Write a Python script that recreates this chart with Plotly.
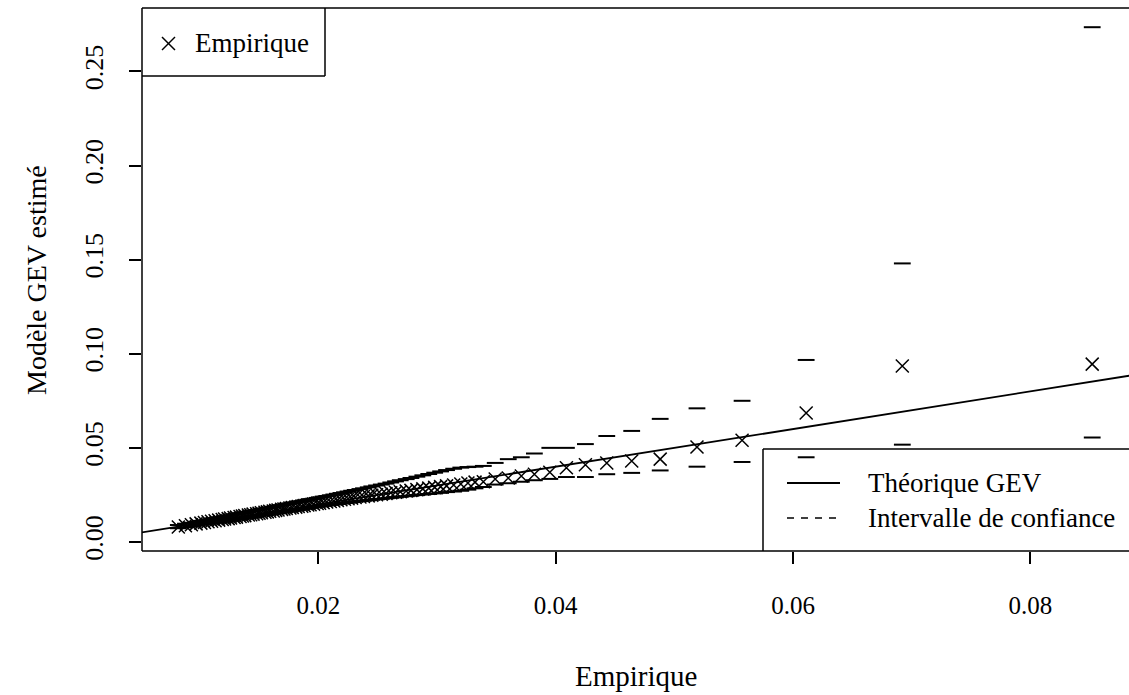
import plotly.graph_objects as go

# ---- data ----
empirique = [
    0.0082, 0.0088, 0.0093, 0.0097, 0.0101, 0.0104, 0.0107, 0.0110, 0.0113, 0.0116,
    0.0119, 0.0121, 0.0124, 0.0126, 0.0129, 0.0131, 0.0134, 0.0136, 0.0138, 0.0141,
    0.0143, 0.0145, 0.0148, 0.0150, 0.0152, 0.0155, 0.0157, 0.0159, 0.0162, 0.0164,
    0.0166, 0.0169, 0.0171, 0.0173, 0.0176, 0.0178, 0.0181, 0.0183, 0.0186, 0.0188,
    0.0191, 0.0193, 0.0196, 0.0199, 0.0201, 0.0204, 0.0207, 0.0210, 0.0213, 0.0216,
    0.0219, 0.0222, 0.0225, 0.0228, 0.0231, 0.0235, 0.0238, 0.0242, 0.0245, 0.0249,
    0.0253, 0.0257, 0.0261, 0.0265, 0.0269, 0.0274, 0.0278, 0.0283, 0.0288, 0.0293,
    0.0298, 0.0303, 0.0308, 0.0314, 0.0320, 0.0326, 0.0332,
    0.0339, 0.0349, 0.0360, 0.0371, 0.0382, 0.0395, 0.0409, 0.0425, 0.0443, 0.0464,
    0.0488, 0.0519, 0.0557, 0.0611, 0.0692, 0.0852,
]
modele = [
    0.0080, 0.0086, 0.0091, 0.0096, 0.0100, 0.0103, 0.0107, 0.0110, 0.0113, 0.0116,
    0.0119, 0.0122, 0.0124, 0.0127, 0.0130, 0.0132, 0.0135, 0.0138, 0.0140, 0.0143,
    0.0145, 0.0148, 0.0150, 0.0153, 0.0155, 0.0158, 0.0160, 0.0163, 0.0165, 0.0168,
    0.0170, 0.0173, 0.0175, 0.0178, 0.0180, 0.0183, 0.0185, 0.0188, 0.0190, 0.0193,
    0.0196, 0.0198, 0.0201, 0.0204, 0.0206, 0.0209, 0.0212, 0.0215, 0.0218, 0.0221,
    0.0224, 0.0227, 0.0230, 0.0233, 0.0236, 0.0239, 0.0242, 0.0245, 0.0248, 0.0251,
    0.0254, 0.0257, 0.0261, 0.0264, 0.0267, 0.0271, 0.0274, 0.0278, 0.0282, 0.0286,
    0.0290, 0.0294, 0.0298, 0.0303, 0.0308, 0.0313, 0.0318,
    0.0320, 0.0335, 0.0340, 0.0350, 0.0360, 0.0370, 0.0394, 0.0410, 0.0420, 0.0430,
    0.0440, 0.0505, 0.0540, 0.0685, 0.0935, 0.0945,
]
borne_sup = [
    0.0090, 0.0097, 0.0102, 0.0107, 0.0112, 0.0115, 0.0119, 0.0122, 0.0126, 0.0129,
    0.0133, 0.0136, 0.0139, 0.0142, 0.0145, 0.0148, 0.0151, 0.0154, 0.0157, 0.0160,
    0.0163, 0.0166, 0.0169, 0.0172, 0.0175, 0.0178, 0.0181, 0.0184, 0.0187, 0.0190,
    0.0193, 0.0196, 0.0199, 0.0202, 0.0205, 0.0208, 0.0211, 0.0214, 0.0217, 0.0220,
    0.0224, 0.0227, 0.0230, 0.0234, 0.0237, 0.0241, 0.0244, 0.0248, 0.0252, 0.0256,
    0.0260, 0.0264, 0.0268, 0.0272, 0.0276, 0.0281, 0.0285, 0.0290, 0.0295, 0.0300,
    0.0305, 0.0310, 0.0316, 0.0322, 0.0328, 0.0334, 0.0340, 0.0347, 0.0354, 0.0361,
    0.0368, 0.0375, 0.0382, 0.0389, 0.0395, 0.0398, 0.0400,
    0.0404, 0.0420, 0.0440, 0.0450, 0.0470, 0.0500, 0.0500, 0.0520, 0.0563, 0.0590,
    0.0654, 0.0710, 0.0750, 0.0967, 0.1480, 0.2735,
]
borne_inf = [
    0.0073, 0.0078, 0.0083, 0.0087, 0.0091, 0.0094, 0.0097, 0.0100, 0.0103, 0.0106,
    0.0108, 0.0111, 0.0113, 0.0116, 0.0118, 0.0121, 0.0123, 0.0126, 0.0128, 0.0131,
    0.0133, 0.0135, 0.0138, 0.0140, 0.0142, 0.0145, 0.0147, 0.0149, 0.0152, 0.0154,
    0.0156, 0.0159, 0.0161, 0.0163, 0.0166, 0.0168, 0.0170, 0.0173, 0.0175, 0.0177,
    0.0180, 0.0182, 0.0184, 0.0187, 0.0189, 0.0192, 0.0194, 0.0197, 0.0199, 0.0202,
    0.0204, 0.0207, 0.0209, 0.0212, 0.0214, 0.0217, 0.0219, 0.0222, 0.0224, 0.0227,
    0.0229, 0.0232, 0.0235, 0.0237, 0.0240, 0.0243, 0.0246, 0.0249, 0.0252, 0.0255,
    0.0258, 0.0261, 0.0265, 0.0268, 0.0272, 0.0278, 0.0285,
    0.0292, 0.0305, 0.0312, 0.0320, 0.0328, 0.0335, 0.0345, 0.0345, 0.0360, 0.0367,
    0.0380, 0.0400, 0.0425, 0.0450, 0.0517, 0.0555,
]
reference_line = [0.0, 0.1]          # y = x (théorique GEV)
x_ticks = [0.02, 0.04, 0.06, 0.08]
x_tick_labels = ["0.02", "0.04", "0.06", "0.08"]
y_ticks = [0.00, 0.05, 0.10, 0.15, 0.20, 0.25]
y_tick_labels = ["0.00", "0.05", "0.10", "0.15", "0.20", "0.25"]

X_RANGE = [0.00514, 0.0883]
Y_RANGE = [-0.0048, 0.2837]

FONT = "Liberation Serif"
BLACK = "black"

fig = go.Figure()

fig.add_trace(go.Scatter(
    x=reference_line, y=reference_line, mode="lines",
    line=dict(color=BLACK, width=1.8), showlegend=False, hoverinfo="skip"))

for bound in (borne_sup, borne_inf):
    fig.add_trace(go.Scatter(
        x=empirique, y=bound, mode="markers",
        marker=dict(symbol="line-ew", size=12, line=dict(color=BLACK, width=2)),
        showlegend=False))

fig.add_trace(go.Scatter(
    x=empirique, y=modele, mode="markers",
    marker=dict(symbol="x-thin", size=13, line=dict(color=BLACK, width=1.5)),
    showlegend=False))

# ---- geometry helpers (pixels -> paper) ----
L, T, W, H = 142, 8, 987, 543
def px(x):
    return (x - L) / W
def py(y):
    return (T + H - y) / H

shapes = []
def seg(x0, y0, x1, y1, width=1.5, dash=None):
    d = dict(type="line", xref="paper", yref="paper",
             x0=px(x0), y0=py(y0), x1=px(x1), y1=py(y1),
             line=dict(color=BLACK, width=width))
    if dash:
        d["line"]["dash"] = dash
    shapes.append(d)

# plot frame (right side is outside the picture)
seg(L, T, L, T + H)
seg(L, T, L + W + 5, T)
seg(L, T + H, L + W + 5, T + H)

# legend 1 (top-left)
seg(L, 76, 325, 76)
seg(325, T, 325, 76)
seg(162, 37, 175, 50)
seg(162, 50, 175, 37)

# legend 2 (bottom-right)
seg(763, 449, L + W + 5, 449)
seg(763, 449, 763, T + H)
seg(787, 483, 840, 483, width=1.8)
seg(787, 518, 840, 518, width=1.5, dash="7px,7px")

annotations = [
    dict(text="Empirique", x=px(193), y=py(43), xanchor="left", yanchor="middle"),
    dict(text="Théorique GEV", x=px(866), y=py(483), xanchor="left", yanchor="middle"),
    dict(text="Intervalle de confiance", x=px(866), y=py(518), xanchor="left", yanchor="middle"),
]
for a in annotations:
    a.update(xref="paper", yref="paper", showarrow=False,
             font=dict(family=FONT, size=27, color=BLACK))

annotations.append(dict(text="Empirique", x=0.5, y=py(676), xref="paper", yref="paper",
                        xanchor="center", yanchor="middle", showarrow=False,
                        font=dict(family=FONT, size=29, color=BLACK)))
annotations.append(dict(text="Modèle GEV estimé", x=px(36), y=py(280), xref="paper", yref="paper",
                        xanchor="center", yanchor="middle", showarrow=False, textangle=-90,
                        font=dict(family=FONT, size=28, color=BLACK)))

fig.update_layout(
    width=1129, height=695,
    margin=dict(l=L, r=0, t=T, b=695 - T - H, pad=0),
    plot_bgcolor="white", paper_bgcolor="white",
    showlegend=False,
    shapes=shapes, annotations=annotations,
    xaxis=dict(range=X_RANGE, showgrid=False, zeroline=False, showline=False,
               ticks="outside", ticklen=12, tickwidth=1.5, tickcolor=BLACK,
               tickvals=x_ticks, ticktext=x_tick_labels,
               tickfont=dict(family=FONT, size=25, color=BLACK),
               ticklabelstandoff=20),
    yaxis=dict(range=Y_RANGE, showgrid=False, zeroline=False, showline=False,
               ticks="outside", ticklen=12, tickwidth=1.5, tickcolor=BLACK,
               tickvals=y_ticks, ticktext=y_tick_labels, tickangle=-90,
               tickfont=dict(family=FONT, size=26, color=BLACK),
               ticklabelstandoff=16),
)

fig.write_html("out.html")
